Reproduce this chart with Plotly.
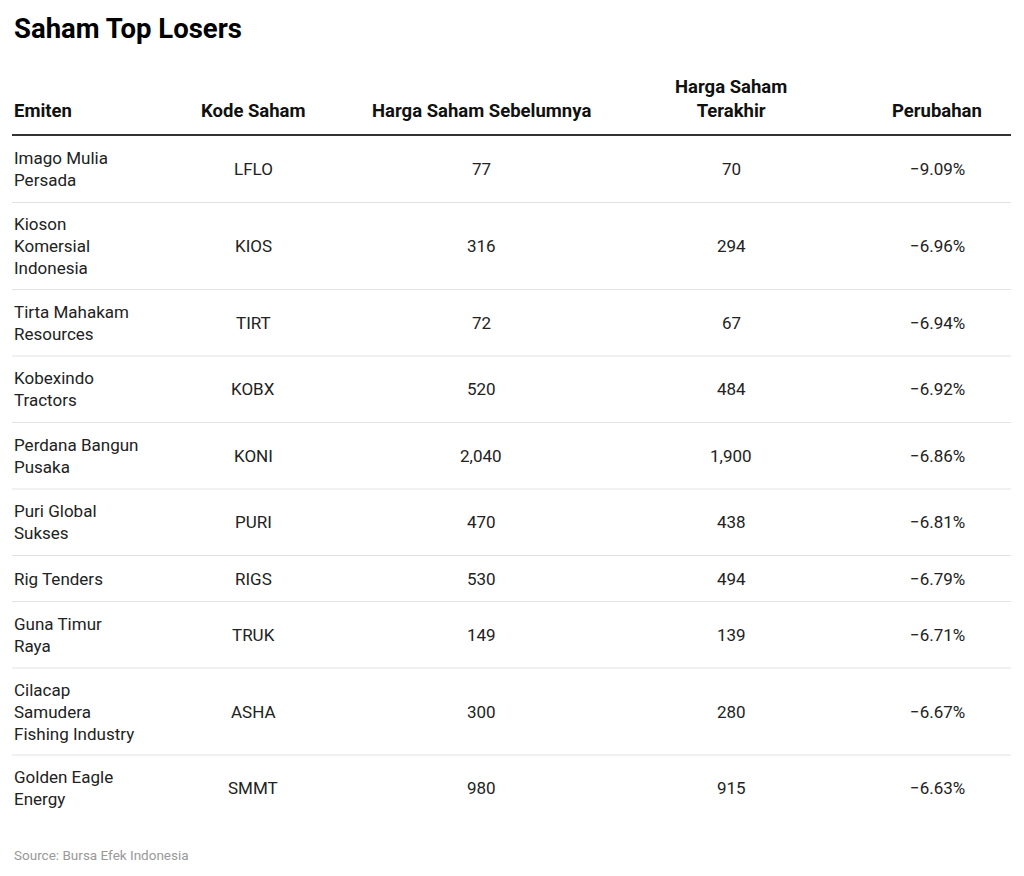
import plotly.graph_objects as go

title = "Saham Top Losers"
source = "Source: Bursa Efek Indonesia"
headers = ["Emiten", "Kode Saham", "Harga Saham Sebelumnya", "Harga Saham<br>Terakhir", "Perubahan"]
emiten = ["Imago Mulia<br>Persada", "Kioson<br>Komersial<br>Indonesia", "Tirta Mahakam<br>Resources",
          "Kobexindo<br>Tractors", "Perdana Bangun<br>Pusaka", "Puri Global<br>Sukses", "Rig Tenders",
          "Guna Timur<br>Raya", "Cilacap<br>Samudera<br>Fishing Industry", "Golden Eagle<br>Energy"]
kode = ["LFLO", "KIOS", "TIRT", "KOBX", "KONI", "PURI", "RIGS", "TRUK", "ASHA", "SMMT"]
sebelum = [77, 316, 72, 520, 2040, 470, 530, 149, 300, 980]
terakhir = [70, 294, 67, 484, 1900, 438, 494, 139, 280, 915]
perubahan = [-9.09, -6.96, -6.94, -6.92, -6.86, -6.81, -6.79, -6.71, -6.67, -6.63]

col_x = [12, 253, 481, 731, 937]
FONT = "Roboto"
fig = go.Figure()
fig.add_trace(go.Scatter(x=[0], y=[0], mode="markers", marker=dict(opacity=0), hoverinfo="skip", showlegend=False))
ann = []
ann.append(dict(x=12, y=28, text="<b>" + title + "</b>", xanchor="left", yanchor="middle", showarrow=False,
                font=dict(family=FONT, size=27.5, color="#000")))
for i, h in enumerate(headers):
    ann.append(dict(x=col_x[i], y=124, text="<b>" + h + "</b>", xanchor="left" if i == 0 else "center",
                    yanchor="bottom", showarrow=False, align="center",
                    font=dict(family=FONT, size=18.5, color="#111")))
shapes = [dict(type="line", x0=12, x1=1011, y0=135, y1=135, line=dict(color="#333", width=2))]
y = 136
for i in range(len(kode)):
    n = emiten[i].count("<br>") + 1
    h = 25.5 + 20.5 * n
    yc = y + h / 2
    vals = [emiten[i], kode[i], f"{sebelum[i]:,}", f"{terakhir[i]:,}", f"\u2212{abs(perubahan[i]):.2f}%"]
    for j, v in enumerate(vals):
        ann.append(dict(x=col_x[j], y=yc, text=v, xanchor="left" if j == 0 else "center", yanchor="middle",
                        align="left", showarrow=False, font=dict(family=FONT, size=17, color="#222")))
    y += h
    if i < len(kode) - 1:
        shapes.append(dict(type="line", x0=12, x1=1011, y0=y, y1=y, line=dict(color="#e2e2e2", width=1)))
ann.append(dict(x=12, y=855, text=source, xanchor="left", yanchor="middle", showarrow=False,
                font=dict(family=FONT, size=13.5, color="#999")))
fig.update_layout(width=1024, height=876, margin=dict(l=0, r=0, t=0, b=0), plot_bgcolor="white",
                  paper_bgcolor="white", annotations=ann, shapes=shapes,
                  xaxis=dict(range=[8, 1032], visible=False, fixedrange=True),
                  yaxis=dict(range=[884, 8], visible=False, fixedrange=True))
fig.write_html("out.html")
